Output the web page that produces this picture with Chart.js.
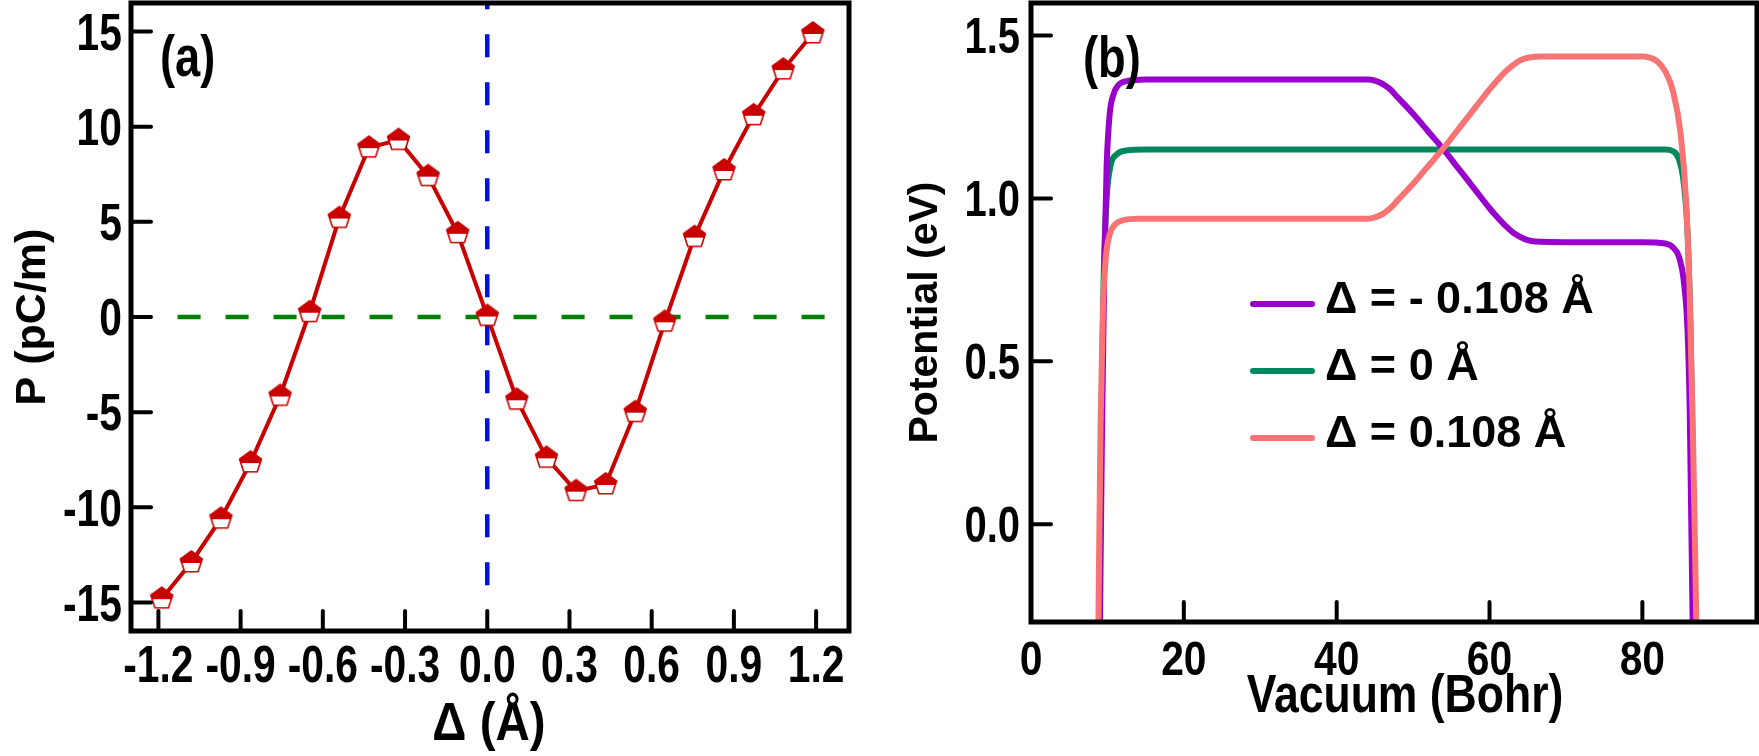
<!DOCTYPE html>
<html><head><meta charset="utf-8">
<script src="https://cdn.jsdelivr.net/npm/chart.js@4.4.1/dist/chart.umd.min.js"></script>
<style>
html,body{margin:0;padding:0;background:#fff;width:1759px;height:756px;overflow:hidden}
canvas{position:absolute;top:0}
#ca{left:0}
#cb{left:880px}
</style></head><body>
<canvas id="ca" width="880" height="756"></canvas>
<canvas id="cb" width="879" height="756"></canvas>
<script>
// ---------- Panel (a) data ----------
const deltaA = [-1.188,-1.08,-0.972,-0.864,-0.756,-0.648,-0.54,-0.432,-0.324,-0.216,-0.108,0,0.108,0.216,0.324,0.432,0.54,0.648,0.756,0.864,0.972,1.08,1.188];
const polA   = [-14.8,-12.9,-10.6,-7.65,-4.15,0.25,5.2,8.9,9.3,7.4,4.4,0.05,-4.35,-7.4,-9.15,-8.8,-5.0,-0.25,4.2,7.7,10.6,13.0,14.9];
const xTicksA = [-1.2,-0.9,-0.6,-0.3,0,0.3,0.6,0.9,1.2];
const yTicksA = [-15,-10,-5,0,5,10,15];
const hRefX = [-1.13, 1.235], hRefY = [0, 0];
const vRefX = [0, 0], vRefY = [-14.1, 16.6];

// ---------- Panel (b) data ----------
const labelsB = ['Δ = - 0.108 Å', 'Δ = 0 Å', 'Δ = 0.108 Å'];
const xPurple = [9.0,9.3,9.6,9.9,10.3,10.8,11.5,12.5,15,30,44,45,46,47,48,50,52,54,56,58,60,61,62,63,64,65,66,70,80,83,84,84.8,85.4,85.9,86.2,86.6];
const yPurple = [-0.35,0.3,0.8,1.1,1.26,1.32,1.35,1.36,1.365,1.365,1.365,1.362,1.352,1.335,1.31,1.26,1.205,1.15,1.09,1.03,0.97,0.943,0.918,0.897,0.882,0.872,0.868,0.866,0.866,0.862,0.85,0.82,0.75,0.6,0.35,-0.35];
const xGreen  = [8.9,9.2,9.5,9.9,10.4,11.2,12.5,15,40,60,83,84,84.8,85.4,85.9,86.3,86.6,86.9];
const yGreen  = [-0.35,0.3,0.75,1.0,1.1,1.135,1.147,1.15,1.15,1.15,1.15,1.145,1.12,1.05,0.9,0.6,0.2,-0.35];
const xSalmon = [8.8,9.1,9.4,9.8,10.3,11,12,14,30,44,45,46,47,48,50,52,54,56,58,60,61,62,63,64,65,67,80,81,82,83,84,85,85.7,86.2,86.6,87.1];
const ySalmon = [-0.35,0.3,0.65,0.82,0.89,0.92,0.933,0.938,0.938,0.938,0.942,0.952,0.97,0.995,1.045,1.1,1.155,1.215,1.275,1.335,1.362,1.388,1.408,1.424,1.432,1.436,1.436,1.432,1.42,1.39,1.33,1.2,1.0,0.7,0.3,-0.35];
const xTicksB = [0,20,40,60,80];
const yTicksB = [0,0.5,1.0,1.5];

// ---------- styling ----------
const REG = "'Liberation Sans',Arial,sans-serif";
const RED = '#c80000';
const COLORS_B = ['#9900cc', '#00875e', '#f87474'];

function pentagon(R, color) {
  const s = Math.ceil(2*R + 4);
  const c = document.createElement('canvas'); c.width = s; c.height = s;
  const g = c.getContext('2d'); const cx = s/2, cy = s/2;
  const pts = [];
  for (let k = 0; k < 5; k++) { const a = -Math.PI/2 + k*2*Math.PI/5; pts.push([cx + R*Math.cos(a), cy + R*Math.sin(a)]); }
  const path = () => { g.beginPath(); pts.forEach((p,i) => i ? g.lineTo(p[0],p[1]) : g.moveTo(p[0],p[1])); g.closePath(); };
  path(); g.fillStyle = '#fff'; g.fill();
  g.save(); path(); g.clip(); g.fillStyle = color; g.fillRect(0, 0, s, cy + 0.5); g.restore();
  path(); g.strokeStyle = color; g.lineWidth = 1.6; g.stroke();
  return c;
}

// condensed bold text (horizontal squeeze of Liberation Sans Bold)
function ctext(ctx, text, x, y, size, sx, align) {
  ctx.save(); ctx.translate(x, y); ctx.scale(sx, 1);
  ctx.font = 'bold ' + size + 'px ' + REG; ctx.fillStyle = '#000';
  ctx.textAlign = align; ctx.textBaseline = 'alphabetic';
  ctx.fillText(text, 0, 0); ctx.restore();
}

const frameTicks = {
  id: 'frameTicks',
  afterDatasetsDraw(chart, args, o) {
    const {ctx, chartArea: a, scales: {x, y}} = chart;
    ctx.save();
    ctx.strokeStyle = '#000'; ctx.lineWidth = 4; ctx.lineCap = 'round';
    for (const t of x.ticks) {
      if (t.value === x.min) continue;
      const px = x.getPixelForValue(t.value);
      ctx.beginPath(); ctx.moveTo(px, a.bottom); ctx.lineTo(px, a.bottom - o.len); ctx.stroke();
    }
    for (const t of y.ticks) {
      const py = y.getPixelForValue(t.value);
      ctx.beginPath(); ctx.moveTo(a.left, py); ctx.lineTo(a.left + o.len, py); ctx.stroke();
    }
    ctx.lineWidth = 5; ctx.lineCap = 'butt'; ctx.lineJoin = 'miter';
    ctx.strokeRect(a.left, a.top, a.right - a.left, a.bottom - a.top);
    ctx.restore();
    // tick labels
    for (const t of x.ticks) {
      ctext(ctx, o.fx(t.value), x.getPixelForValue(t.value), a.bottom + o.xBase, o.xSize, o.xSx, 'center');
    }
    for (const t of y.ticks) {
      const py = y.getPixelForValue(t.value);
      ctext(ctx, o.fy(t.value), a.left - o.yPad, py + 0.358*o.ySize, o.ySize, o.ySx, 'right');
    }
    // x-axis title and panel label
    ctext(ctx, o.xTitle, o.xtX, o.xtY, o.xtSize, o.xtSx, 'center');
    ctext(ctx, o.label, a.left + o.lx, o.ly, o.lSize, o.lSx, 'left');
  }
};

const inLegend = {
  id: 'inLegend',
  afterDatasetsDraw(chart, args, o) {
    if (!o.show) return;
    const ctx = chart.ctx; ctx.save();
    chart.data.datasets.forEach((ds, i) => {
      const y = o.y0 + i*o.dy;
      ctx.strokeStyle = ds.borderColor; ctx.lineWidth = 6; ctx.lineCap = 'round';
      ctx.beginPath(); ctx.moveTo(o.x0, y); ctx.lineTo(o.x1, y); ctx.stroke();
      ctx.fillStyle = '#000'; ctx.font = o.font; ctx.textBaseline = 'alphabetic'; ctx.textAlign = 'left';
      ctx.fillText(ds.label, o.tx, y + o.base);
    });
    ctx.restore();
  }
};

const pts = (xs, ys) => xs.map((x, i) => ({x: x, y: ys[i]}));
const noPad = s => { s.paddingTop = 0; s.paddingBottom = 0; s.paddingLeft = 0; s.paddingRight = 0; };

// ---------- Chart (a) ----------
new Chart(document.getElementById('ca'), {
  type: 'line',
  data: {
    datasets: [
      {label: 'P', data: pts(deltaA, polA), borderColor: RED, borderWidth: 4, tension: 0,
       pointStyle: pentagon(11.5, RED), pointRadius: 11, order: 0},
      {label: 'vref', data: pts(vRefX, vRefY), borderColor: '#0010e8', borderWidth: 4.5, borderDash: [23, 25],
       pointRadius: 0, order: 1},
      {label: 'href', data: pts(hRefX, hRefY), borderColor: '#008000', borderWidth: 4.5, borderDash: [23, 25],
       pointRadius: 0, order: 2}
    ]
  },
  options: {
    responsive: false, animation: false, events: [],
    layout: {autoPadding: false, padding: {left: 0, right: 31, top: 3, bottom: 0}},
    plugins: {
      legend: {display: false}, tooltip: {enabled: false},
      frameTicks: {len: 20,
        fx: v => Number(v).toFixed(1), fy: v => String(v),
        xBase: 51, xSize: 51, xSx: 0.8, yPad: 9, ySize: 51, ySx: 0.8,
        xTitle: 'Δ (Å)', xtX: 489, xtY: 740, xtSize: 54, xtSx: 0.88,
        label: '(a)', lx: 29, ly: 76, lSize: 58, lSx: 0.78},
      inLegend: {show: false}
    },
    scales: {
      x: {type: 'linear', min: -1.3, max: 1.32,
          afterBuildTicks: s => { s.ticks = xTicksA.map(v => ({value: v})); },
          afterFit: s => { s.height = 125; noPad(s); },
          grid: {display: false}, border: {display: false},
          ticks: {display: false}},
      y: {type: 'linear', min: -16.5, max: 16.5,
          afterBuildTicks: s => { s.ticks = yTicksA.map(v => ({value: v})); },
          afterFit: s => { s.width = 131; noPad(s); },
          grid: {display: false}, border: {display: false},
          ticks: {display: false},
          title: {display: true, text: 'P (pC/m)', color: '#000',
                  font: {family: REG, size: 43, weight: 'bold', lineHeight: 1}, padding: {top: 12, bottom: 0}}}
    }
  },
  plugins: [frameTicks, inLegend]
});

// ---------- Chart (b) ----------
const seriesB = [pts(xPurple, yPurple), pts(xGreen, yGreen), pts(xSalmon, ySalmon)];
new Chart(document.getElementById('cb'), {
  type: 'line',
  data: {
    datasets: seriesB.map((d, i) => ({
      label: labelsB[i], data: d, borderColor: COLORS_B[i], borderWidth: 6,
      pointRadius: 0, cubicInterpolationMode: 'monotone', clip: 0,
      order: [1, 2, 0][i]
    }))
  },
  options: {
    responsive: false, animation: false, events: [],
    layout: {autoPadding: false, padding: {left: 0, right: 2, top: 3, bottom: 0}},
    plugins: {
      legend: {display: false}, tooltip: {enabled: false},
      frameTicks: {len: 20,
        fx: v => String(v), fy: v => Number(v).toFixed(1),
        xBase: 53, xSize: 48, xSx: 0.85, yPad: 11, ySize: 50, ySx: 0.8,
        xTitle: 'Vacuum (Bohr)', xtX: 525, xtY: 712, xtSize: 53, xtSx: 0.84,
        label: '(b)', lx: 52, ly: 77, lSize: 58, lSx: 0.78},
      inLegend: {show: true, x0: 373, x1: 432, tx: 445, y0: 304, dy: 67, base: 9, font: 'bold 45px ' + REG}
    },
    scales: {
      x: {type: 'linear', min: 0, max: 95,
          afterBuildTicks: s => { s.ticks = xTicksB.map(v => ({value: v})); },
          afterFit: s => { s.height = 134; noPad(s); },
          grid: {display: false}, border: {display: false},
          ticks: {display: false}},
      y: {type: 'linear', min: -0.3, max: 1.6,
          afterBuildTicks: s => { s.ticks = yTicksB.map(v => ({value: v})); },
          afterFit: s => { s.width = 151; noPad(s); },
          grid: {display: false}, border: {display: false},
          ticks: {display: false},
          title: {display: true, text: 'Potential (eV)', color: '#000',
                  font: {family: REG, size: 41, weight: 'bold', lineHeight: 1}, padding: {top: 25, bottom: 0}}}
    }
  },
  plugins: [frameTicks, inLegend]
});
</script>
</body></html>
